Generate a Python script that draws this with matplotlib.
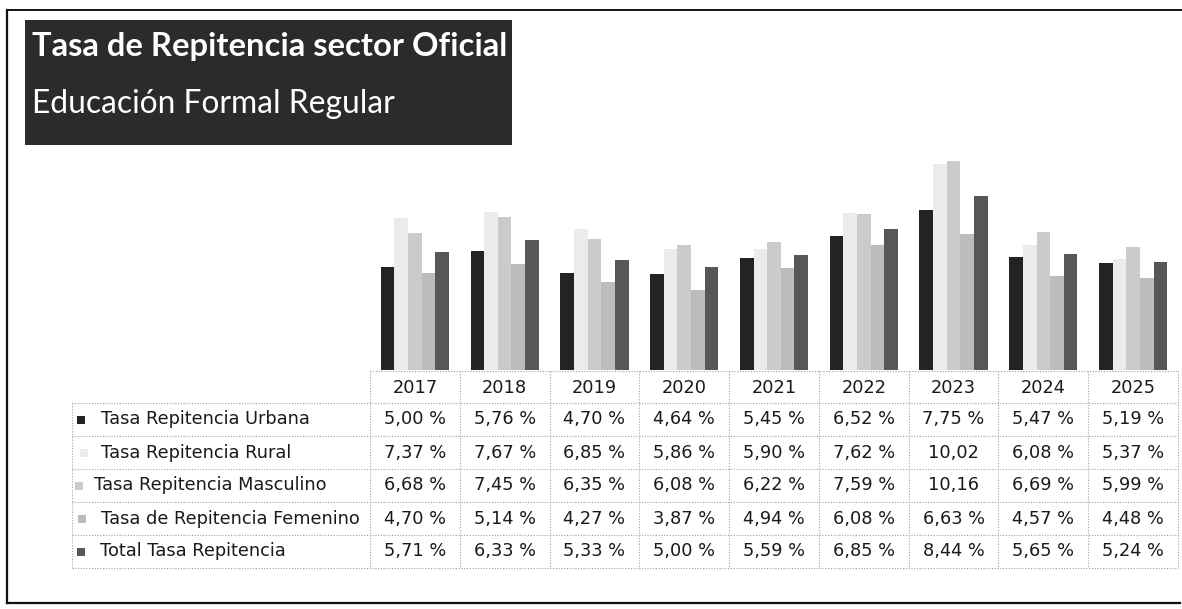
import numpy as np
import matplotlib.pyplot as plt
from matplotlib.patches import Rectangle

# data
years = ['2017', '2018', '2019', '2020', '2021', '2022', '2023', '2024', '2025']
series_names = ['Tasa Repitencia Urbana', 'Tasa Repitencia Rural',
                'Tasa Repitencia Masculino', 'Tasa de Repitencia Femenino',
                'Total Tasa Repitencia']
urbana = [5.00, 5.76, 4.70, 4.64, 5.45, 6.52, 7.75, 5.47, 5.19]
rural = [7.37, 7.67, 6.85, 5.86, 5.90, 7.62, 10.02, 6.08, 5.37]
masculino = [6.68, 7.45, 6.35, 6.08, 6.22, 7.59, 10.16, 6.69, 5.99]
femenino = [4.70, 5.14, 4.27, 3.87, 4.94, 6.08, 6.63, 4.57, 4.48]
total = [5.71, 6.33, 5.33, 5.00, 5.59, 6.85, 8.44, 5.65, 5.24]

series = [urbana, rural, masculino, femenino, total]
colors = ['#232323', '#ebebeb', '#cbcbcb', '#bcbcbc', '#575757']

W, H = 1182, 609
fig = plt.figure(figsize=(W / 100, H / 100), dpi=100)
fig.patch.set_facecolor('white')

# overlay in pixel coords for frame, title and table
ov = fig.add_axes([0, 0, 1, 1])
ov.set_xlim(0, W)
ov.set_ylim(H, 0)
ov.axis('off')

# chart area (pixels)
x0, x1 = 370, 1178
base_y, top_y = 370, 123
col_w = (x1 - x0) / len(years)

ax = fig.add_axes([x0 / W, 1 - base_y / H, (x1 - x0) / W, (base_y - top_y) / H])
ax.patch.set_alpha(0)
x = np.arange(len(years))
bw = 0.152
for k, (vals, c) in enumerate(zip(series, colors)):
    ax.bar(x + (k - 2) * bw, vals, width=bw, color=c, linewidth=0)
ax.set_xlim(-0.5, len(years) - 0.5)
ax.set_ylim(0, 12)
ax.axis('off')

# outer frame
ov.plot([7, 7], [10, 603], color='#111111', lw=1.6)
ov.plot([7, W], [10, 10], color='#111111', lw=1.4)
ov.plot([7, W - 2], [603, 603], color='#111111', lw=1.6)

# title box
ov.add_patch(Rectangle((25, 20), 487, 125, facecolor='#2b2b2b', edgecolor='none'))
ov.text(32, 56, 'Tasa de Repitencia sector Oficial', color='white',
        fontsize=23.6, fontweight='bold', family='Lato', va='baseline')
ov.text(32, 113, 'Educación Formal Regular', color='white',
        fontsize=22.9, family='Lato', va='baseline')

# table
grid = dict(color='#a0a0a0', lw=0.8, ls=(0, (1, 1.5)))
head_top, head_bot = 371, 403
row_h = 33
lab_x = 72
n_rows = len(series_names)
table_bot = head_bot + n_rows * row_h

ov.plot([x0, x1], [head_top, head_top], **grid)
for i in range(len(years) + 1):
    xc = x0 + i * col_w
    ov.plot([xc, xc], [head_top, table_bot], **grid)
ov.plot([lab_x, lab_x], [head_bot, table_bot], **grid)
for r in range(n_rows + 1):
    yy = head_bot + r * row_h
    ov.plot([lab_x, x1], [yy, yy], **grid)

tfont = dict(family='DejaVu Sans', fontsize=12.8, color='#1a1a1a')
for i, yr in enumerate(years):
    ov.text(x0 + (i + 0.5) * col_w, (head_top + head_bot) / 2 + 1, yr,
            ha='center', va='center', **tfont)

def fmt(v):
    s = f'{v:.2f}'.replace('.', ',')
    return s if v >= 10 else s + ' %'

label_x = [101, 101, 94, 101, 100]
sq_x = [77, 80, 75, 78, 77]
for r, (name, vals, c) in enumerate(zip(series_names, series, colors)):
    yc = head_bot + (r + 0.5) * row_h
    ov.add_patch(Rectangle((sq_x[r], yc - 4), 8, 8, facecolor=c, edgecolor='none'))
    ov.text(label_x[r], yc, name, ha='left', va='center', **tfont)
    for i, v in enumerate(vals):
        ov.text(x0 + (i + 0.5) * col_w, yc, fmt(v), ha='center', va='center', **tfont)

fig.savefig('out.png', dpi=100)
